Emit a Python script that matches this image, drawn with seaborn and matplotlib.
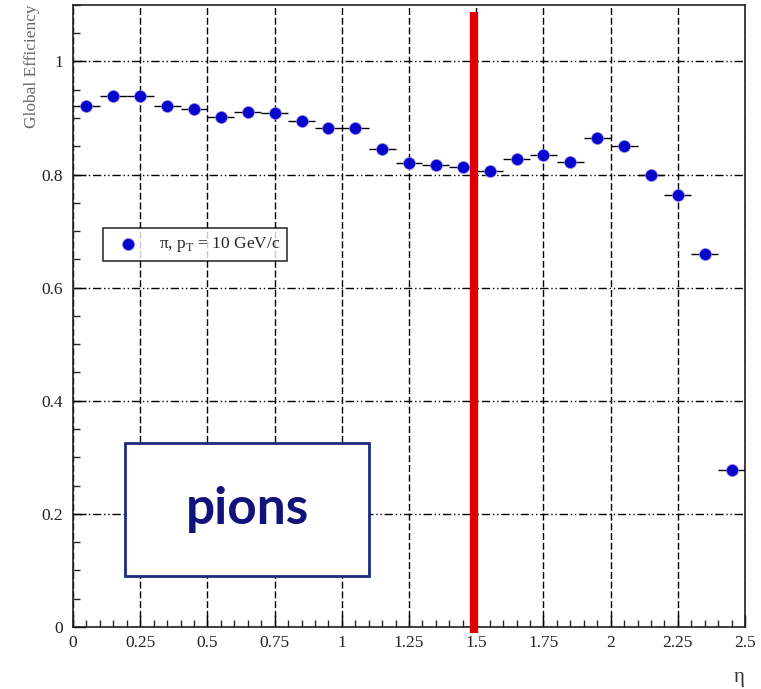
import matplotlib
matplotlib.use('Agg')
import matplotlib.pyplot as plt
import seaborn as sns
import pandas as pd
from matplotlib.patches import Rectangle
from matplotlib.ticker import MultipleLocator

sns.set_style("white")
plt.rcParams['font.family'] = ['Liberation Serif', 'DejaVu Serif']
plt.rcParams['mathtext.fontset'] = 'custom'
plt.rcParams['mathtext.rm'] = 'Liberation Serif'

# eta bin centres and global efficiency for pions, pT = 10 GeV/c
eta = [0.05, 0.15, 0.25, 0.35, 0.45, 0.55, 0.65, 0.75, 0.85, 0.95,
       1.05, 1.15, 1.25, 1.35, 1.45, 1.55, 1.65, 1.75, 1.85, 1.95,
       2.05, 2.15, 2.25, 2.35, 2.45]
efficiency = [0.921, 0.938, 0.938, 0.922, 0.916, 0.901, 0.911, 0.908, 0.894, 0.882,
              0.882, 0.845, 0.821, 0.817, 0.814, 0.807, 0.827, 0.835, 0.822, 0.864,
              0.851, 0.800, 0.763, 0.660, 0.278]
bin_half_width = 0.05
xticks = [0, 0.25, 0.5, 0.75, 1, 1.25, 1.5, 1.75, 2, 2.25, 2.5]
xtick_labels = ['0', '0.25', '0.5', '0.75', '1', '1.25', '1.5', '1.75', '2', '2.25', '2.5']
yticks = [0, 0.2, 0.4, 0.6, 0.8, 1.0]
ytick_labels = ['0', '0.2', '0.4', '0.6', '0.8', '1']
boundary_eta = 1.49

df = pd.DataFrame({'eta': eta, 'eff': efficiency})

fig = plt.figure(figsize=(7.61, 6.89), dpi=100)
ax = fig.add_axes([0.096, 0.09, 0.883, 0.903])

ax.errorbar(df['eta'], df['eff'], xerr=bin_half_width, fmt='none',
            ecolor='black', elinewidth=1.0, capsize=0, zorder=3)
sns.scatterplot(data=df, x='eta', y='eff', ax=ax, s=75, color='#0505cc',
                edgecolor='#9a88ee', linewidth=0.5, zorder=4,
                label='\u03c0, p$_\\mathrm{T}$ = 10 GeV/c')

ax.set_xlim(0, 2.5)
ax.set_ylim(0, 1.1)
ax.set_xticks(xticks)
ax.set_xticklabels(xtick_labels)
ax.set_yticks(yticks)
ax.set_yticklabels(ytick_labels)
ax.xaxis.set_minor_locator(MultipleLocator(0.05))
ax.yaxis.set_minor_locator(MultipleLocator(0.05))
ax.tick_params(axis='both', which='major', direction='in', length=9, width=1,
               labelsize=12.5, colors='black', pad=7)
ax.tick_params(axis='x', which='major', pad=6)
ax.tick_params(axis='both', which='minor', direction='in', length=5, width=1)
ax.tick_params(axis='x', which='both', bottom=True, top=False)
ax.tick_params(axis='y', which='both', left=True, right=False)
for lbl in ax.get_xticklabels() + ax.get_yticklabels():
    lbl.set_color('#222222')

# grid: dashed verticals, dash-dot horizontals
ax.xaxis.grid(True, which='major', color='black', linewidth=1.0, linestyle=(0, (5, 2)))
ax.yaxis.grid(True, which='major', color='black', linewidth=1.0, linestyle=(0, (6, 2, 1, 2, 1, 2)))
for s in ax.spines.values():
    s.set_color('#222222')
    s.set_linewidth(1.2)

ax.set_xlabel('\u03b7', fontsize=15, loc='right', labelpad=12, color='#333333')
ax.set_ylabel('Global Efficiency', fontsize=12.5, loc='top', color='#666666', labelpad=1)

leg = ax.legend(loc='upper left', bbox_to_anchor=(0.045, 0.641), frameon=True,
                fancybox=False, edgecolor='black', fontsize=12.5,
                handletextpad=0.8, borderpad=0.4, markerscale=1.0,
                borderaxespad=0)
leg.get_frame().set_linewidth(1.2)

# red boundary line
ax.plot([boundary_eta, boundary_eta], [-0.01, 1.087], color='#dd0000', linewidth=6,
        solid_capstyle='butt', clip_on=False, zorder=5)

# "pions" label box
ax.add_patch(Rectangle((0.195, 0.09), 0.905, 0.235, transform=ax.transData,
                       facecolor='white', edgecolor='#1c2a80', linewidth=2, zorder=6))
ax.text(0.6475, 0.2075, 'pions', fontsize=37, fontweight='bold', color='#12127a',
        family=['Lato', 'DejaVu Sans'], ha='center', va='center', zorder=7)

fig.savefig('out.png', dpi=100)
plt.close(fig)
